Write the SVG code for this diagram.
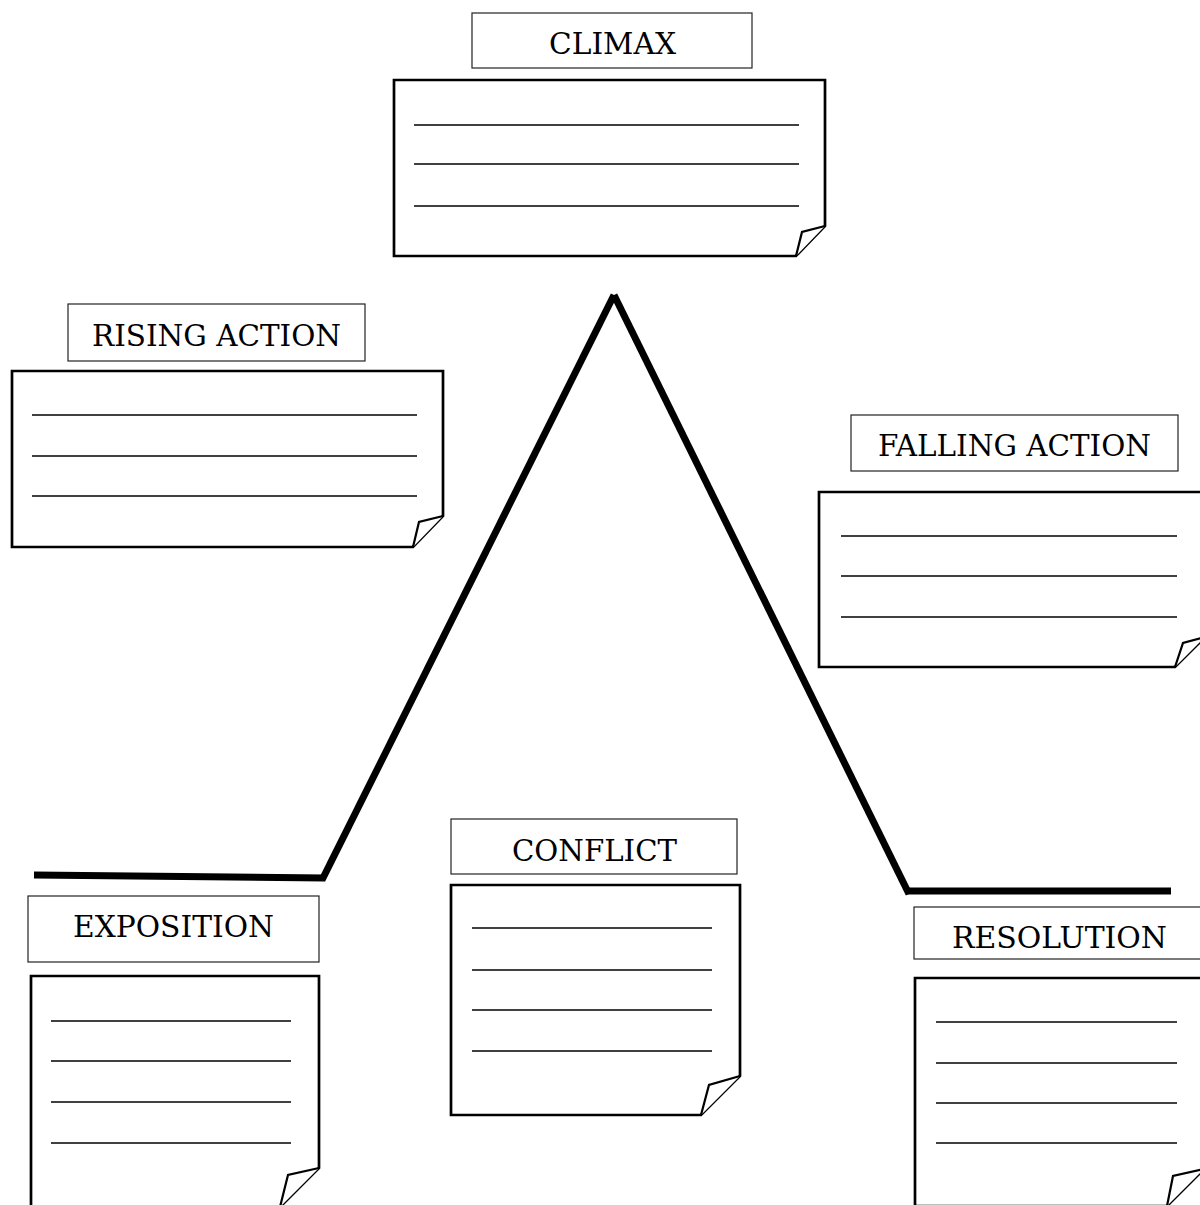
<svg xmlns="http://www.w3.org/2000/svg" width="1200" height="1205" viewBox="0 0 1200 1205">
<style>
.lbl{fill:#fff;stroke:#222;stroke-width:1.2}
.txt{font-family:"DejaVu Serif","Liberation Serif",serif;font-size:29px;fill:#000}
.box{fill:#fff;stroke:#000;stroke-width:2.7;stroke-linejoin:miter}
.fold{fill:#fff;stroke:#000;stroke-width:2.2;stroke-linejoin:miter}
.ln{stroke:#000;stroke-width:1.4}
.plot{stroke:#000;stroke-width:7;fill:none;stroke-linecap:butt}
</style>
<rect width="1200" height="1205" fill="#fff"/>
<g id="connectors">
<line class="plot" x1="34" y1="875" x2="325" y2="878"/>
<line class="plot" x1="322" y1="880" x2="614" y2="295"/>
<line class="plot" x1="614" y1="295" x2="909" y2="894"/>
<line class="plot" x1="906" y1="891" x2="1171" y2="891"/>
</g>
<g id="climax">
<rect class="lbl" x="472" y="13" width="280" height="55"/>
<text class="txt" x="549" y="54" textLength="127" lengthAdjust="spacingAndGlyphs">CLIMAX</text>
<path class="box" d="M394,80 H825 V226 L796,256 H394 Z"/>
<path class="fold" d="M825,226 L802,232 L796,256"/>
<line class="ln" x1="414" y1="125" x2="799" y2="125"/>
<line class="ln" x1="414" y1="164" x2="799" y2="164"/>
<line class="ln" x1="414" y1="206" x2="799" y2="206"/>
</g>
<g id="rising-action">
<rect class="lbl" x="68" y="304" width="297" height="57"/>
<text class="txt" x="92" y="346" textLength="249" lengthAdjust="spacingAndGlyphs">RISING ACTION</text>
<path class="box" d="M12,371 H443 V516 L413,547 H12 Z"/>
<path class="fold" d="M443,516 L419,522 L413,547"/>
<line class="ln" x1="32" y1="415" x2="417" y2="415"/>
<line class="ln" x1="32" y1="456" x2="417" y2="456"/>
<line class="ln" x1="32" y1="496" x2="417" y2="496"/>
</g>
<g id="falling-action">
<rect class="lbl" x="851" y="415" width="327" height="56"/>
<text class="txt" x="878" y="456" textLength="273" lengthAdjust="spacingAndGlyphs">FALLING ACTION</text>
<path class="box" d="M819,492 H1205 V637 L1175,667 H819 Z"/>
<path class="fold" d="M1205,637 L1183,643 L1175,667"/>
<line class="ln" x1="841" y1="536" x2="1177" y2="536"/>
<line class="ln" x1="841" y1="576" x2="1177" y2="576"/>
<line class="ln" x1="841" y1="617" x2="1177" y2="617"/>
</g>
<g id="exposition">
<rect class="lbl" x="28" y="896" width="291" height="66"/>
<text class="txt" x="73" y="937" textLength="201" lengthAdjust="spacingAndGlyphs">EXPOSITION</text>
<path class="box" d="M31,976 H319 V1168 L280,1207 H31 Z"/>
<path class="fold" d="M319,1168 L288,1175 L280,1207"/>
<line class="ln" x1="51" y1="1021" x2="291" y2="1021"/>
<line class="ln" x1="51" y1="1061" x2="291" y2="1061"/>
<line class="ln" x1="51" y1="1102" x2="291" y2="1102"/>
<line class="ln" x1="51" y1="1143" x2="291" y2="1143"/>
</g>
<g id="conflict">
<rect class="lbl" x="451" y="819" width="286" height="55"/>
<text class="txt" x="512" y="861" textLength="165" lengthAdjust="spacingAndGlyphs">CONFLICT</text>
<path class="box" d="M451,885 H740 V1076 L701,1115 H451 Z"/>
<path class="fold" d="M740,1076 L709,1085 L701,1115"/>
<line class="ln" x1="472" y1="928" x2="712" y2="928"/>
<line class="ln" x1="472" y1="970" x2="712" y2="970"/>
<line class="ln" x1="472" y1="1010" x2="712" y2="1010"/>
<line class="ln" x1="472" y1="1051" x2="712" y2="1051"/>
</g>
<g id="resolution">
<rect class="lbl" x="914" y="907" width="296" height="52"/>
<text class="txt" x="952" y="948" textLength="215" lengthAdjust="spacingAndGlyphs">RESOLUTION</text>
<path class="box" d="M915,978 H1204 V1169 L1167,1206 H915 Z"/>
<path class="fold" d="M1204,1169 L1173,1176 L1167,1206"/>
<line class="ln" x1="936" y1="1022" x2="1177" y2="1022"/>
<line class="ln" x1="936" y1="1063" x2="1177" y2="1063"/>
<line class="ln" x1="936" y1="1103" x2="1177" y2="1103"/>
<line class="ln" x1="936" y1="1143" x2="1177" y2="1143"/>
</g>
</svg>
